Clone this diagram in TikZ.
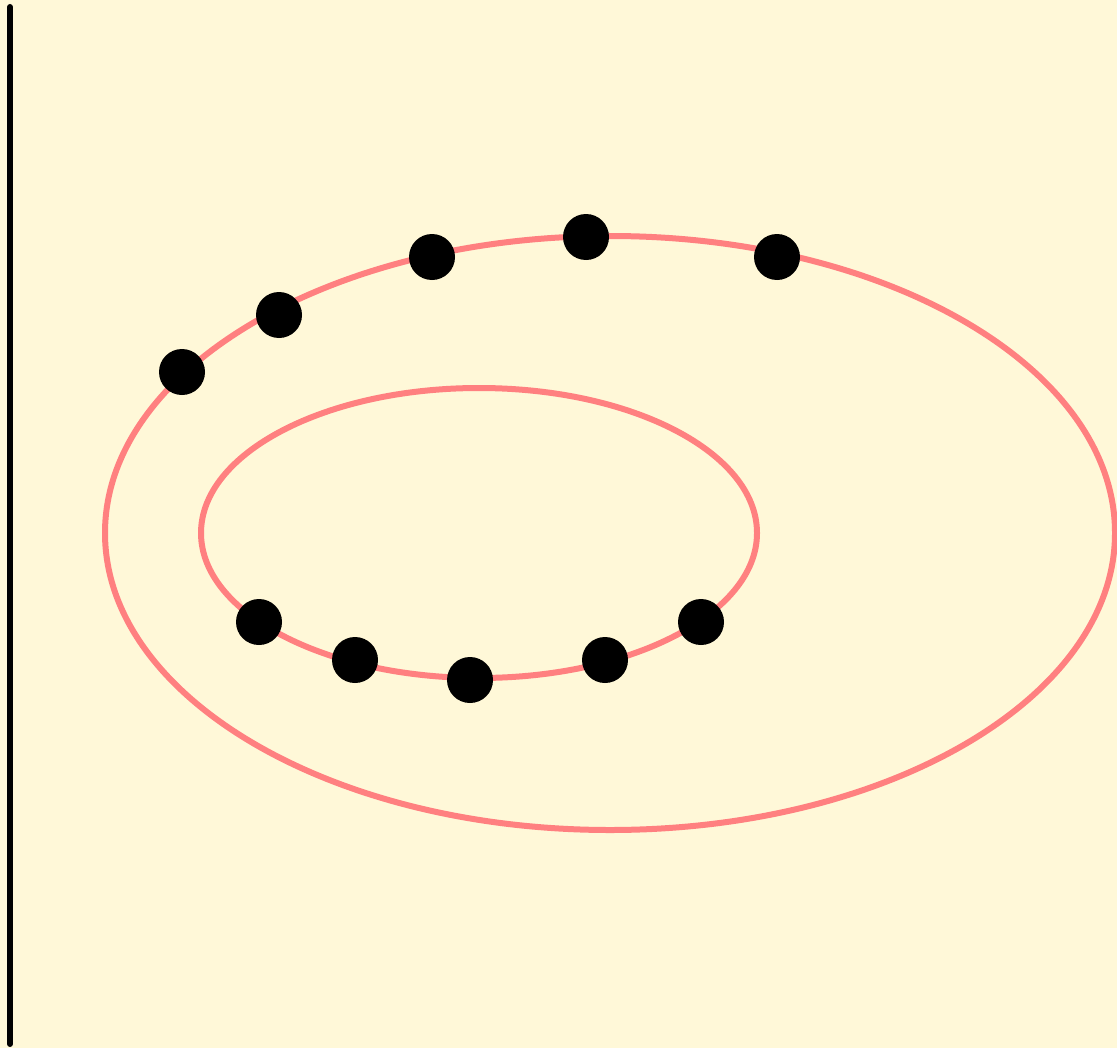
\documentclass[tikz,border=0pt]{standalone}
\usetikzlibrary{positioning}

\definecolor{paper}{RGB}{255,248,216}
\definecolor{ringpink}{RGB}{255,128,128}

\tikzset{
  ring/.style={draw=ringpink, line width=3pt},
  bead/.style={circle, fill=black, inner sep=0pt, minimum size=23pt},
  wall/.style={draw=black, line width=3pt, line cap=round}
}

\begin{document}
\begin{tikzpicture}[x=0.5pt, y=-0.5pt]
  \fill[paper] (0,0) rectangle (1117,1048);
  \useasboundingbox (0,0) rectangle (1117,1048);

  % left wall
  \coordinate (wtop) at (10,7);
  \coordinate (wbot) at (10,1044);
  \draw[wall] (wtop) -- (wbot);

  % the two rings
  \draw[ring] (610,533) ellipse [x radius=505, y radius=297];
  \draw[ring] (479,533) ellipse [x radius=278, y radius=145];

  % beads on the outer ring
  \foreach \name/\px/\py in {o1/182/372, o2/279/315, o3/432/257, o4/586/237, o5/777/257}
    \node[bead] (\name) at (\px,\py) {};

  % beads on the inner ring
  \foreach \name/\px/\py in {i1/259/622, i2/355/660, i3/470/680, i4/605/660, i5/701/622}
    \node[bead] (\name) at (\px,\py) {};
\end{tikzpicture}
\end{document}
